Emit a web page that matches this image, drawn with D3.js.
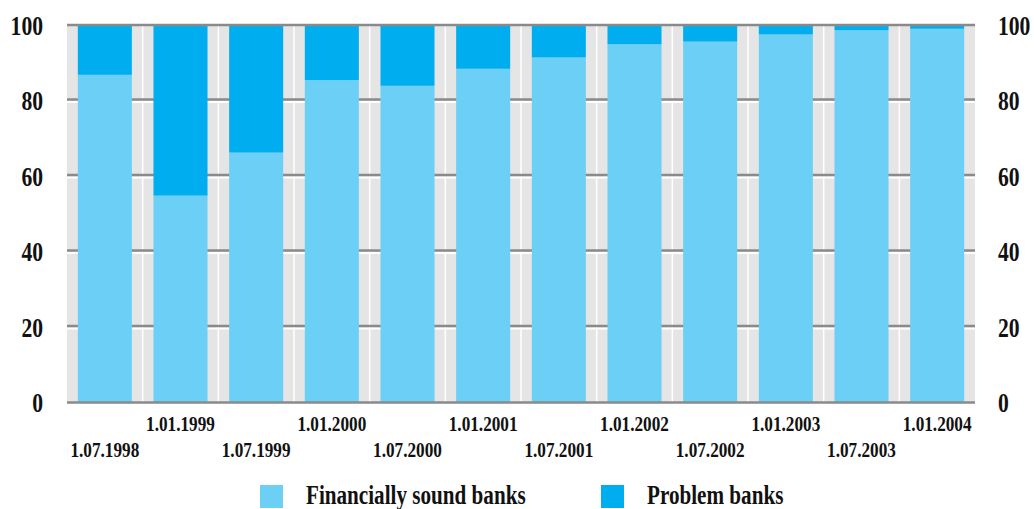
<!DOCTYPE html>
<html>
<head>
<meta charset="utf-8">
<script src="https://cdn.jsdelivr.net/npm/d3@7"></script>
<style>
  html, body { margin: 0; padding: 0; background: #fff; }
  svg { display: block; }
  text { font-family: "Liberation Serif", "Times New Roman", serif; font-weight: bold; fill: #111; }
</style>
</head>
<body>
<svg id="chart" width="1034" height="509"></svg>
<script>
// Share of banks by financial condition, %
const dates = ["1.07.1998", "1.01.1999", "1.07.1999", "1.01.2000", "1.07.2000", "1.01.2001",
               "1.07.2001", "1.01.2002", "1.07.2002", "1.01.2003", "1.07.2003", "1.01.2004"];
const soundBanks = [86.8, 54.8, 66.2, 85.4, 83.9, 88.4, 91.4, 94.9, 95.6, 97.5, 98.6, 99.0];
const problemBanks = soundBanks.map(v => +(100 - v).toFixed(1));
const yTicks = [0, 20, 40, 60, 80, 100];
const seriesNames = ["Financially sound banks", "Problem banks"];
const seriesColors = ["#6bcff6", "#00aeef"];

const svg = d3.select("#chart");
const plotLeft = 67, plotRight = 975, plotTop = 25, plotBottom = 402.5;

const x = d3.scaleBand().domain(dates).range([plotLeft, plotRight])
  .paddingInner(0.286).paddingOuter(0.143);
const y = d3.scaleLinear().domain([0, 100]).range([plotBottom, plotTop]);
const step = x.step();

// plot background with white separators between categories
svg.append("rect").attr("x", plotLeft).attr("y", plotTop).attr("width", plotRight - plotLeft)
  .attr("height", plotBottom - plotTop).attr("fill", "#e5e5e5");
svg.append("g").selectAll("line").data(dates.slice(1)).join("line")
  .attr("x1", d => x(d) - (step - x.bandwidth()) / 2)
  .attr("x2", d => x(d) - (step - x.bandwidth()) / 2)
  .attr("y1", plotTop).attr("y2", plotBottom)
  .attr("stroke", "#fff").attr("stroke-width", 1.5);

// inner gridlines with a light edge underneath
const inner = yTicks.filter(t => t > 0 && t < 100);
const grid = svg.append("g");
grid.selectAll("line.hl").data(inner).join("line").attr("class", "hl")
  .attr("x1", plotLeft).attr("x2", plotRight)
  .attr("y1", d => y(d) + 1.5).attr("y2", d => y(d) + 1.5)
  .attr("stroke", "#fff").attr("stroke-width", 2);
grid.selectAll("line.gl").data(inner).join("line").attr("class", "gl")
  .attr("x1", plotLeft).attr("x2", plotRight)
  .attr("y1", d => y(d) - 1).attr("y2", d => y(d) - 1)
  .attr("stroke", "#8a8a8a").attr("stroke-width", 2.5);

// stacked bars
const rows = dates.map((d, i) => ({ date: d, sound: soundBanks[i], problem: problemBanks[i] }));
const stack = d3.stack().keys(["sound", "problem"])(rows);
svg.append("g").selectAll("g").data(stack).join("g")
  .attr("fill", (s, i) => seriesColors[i])
  .selectAll("rect").data(s => s).join("rect")
  .attr("x", d => x(d.data.date))
  .attr("width", x.bandwidth())
  .attr("y", d => y(d[1]))
  .attr("height", d => y(d[0]) - y(d[1]));

// frame lines at 0 and 100
svg.append("g").selectAll("line").data([0, 100]).join("line")
  .attr("x1", plotLeft).attr("x2", plotRight)
  .attr("y1", d => y(d)).attr("y2", d => y(d))
  .attr("stroke", "#8a8a8a").attr("stroke-width", 2.5);

// value axes on both sides
const yLeft = svg.append("g").attr("transform", `translate(${plotLeft},0)`)
  .call(d3.axisLeft(y).tickValues(yTicks).tickSize(0));
yLeft.select(".domain").remove();
yLeft.selectAll("text").attr("x", 0).attr("dy", "0.34em")
  .attr("transform", "translate(-24,0) scale(0.8,1)")
  .style("font-size", "27px").attr("text-anchor", "end");

const yRight = svg.append("g").attr("transform", `translate(${plotRight},0)`)
  .call(d3.axisRight(y).tickValues(yTicks).tickSize(0));
yRight.select(".domain").remove();
yRight.selectAll("text").attr("x", 0).attr("dy", "0.34em")
  .attr("transform", "translate(23,0) scale(0.8,1)")
  .style("font-size", "27px").attr("text-anchor", "start");

// date axis, labels staggered over two rows
const xAxis = svg.append("g").attr("transform", `translate(0,${plotBottom})`)
  .call(d3.axisBottom(x).tickSize(0));
xAxis.select(".domain").remove();
xAxis.selectAll("text")
  .attr("dy", 0)
  .attr("y", (d, i) => i % 2 === 0 ? 54.5 : 28.5)
  .attr("transform", "scale(0.82,1)")
  .style("font-size", "21px");

// legend
const legendX = [260, 601];
const legend = svg.append("g").selectAll("g").data(seriesNames).join("g")
  .attr("transform", (d, i) => `translate(${legendX[i]},485)`);
legend.append("rect").attr("width", 23).attr("height", 23)
  .attr("fill", (d, i) => seriesColors[i]);
legend.append("text").text(d => d)
  .attr("transform", "translate(46,18.5) scale(0.755,1)")
  .style("font-size", "28px");
</script>
</body>
</html>
